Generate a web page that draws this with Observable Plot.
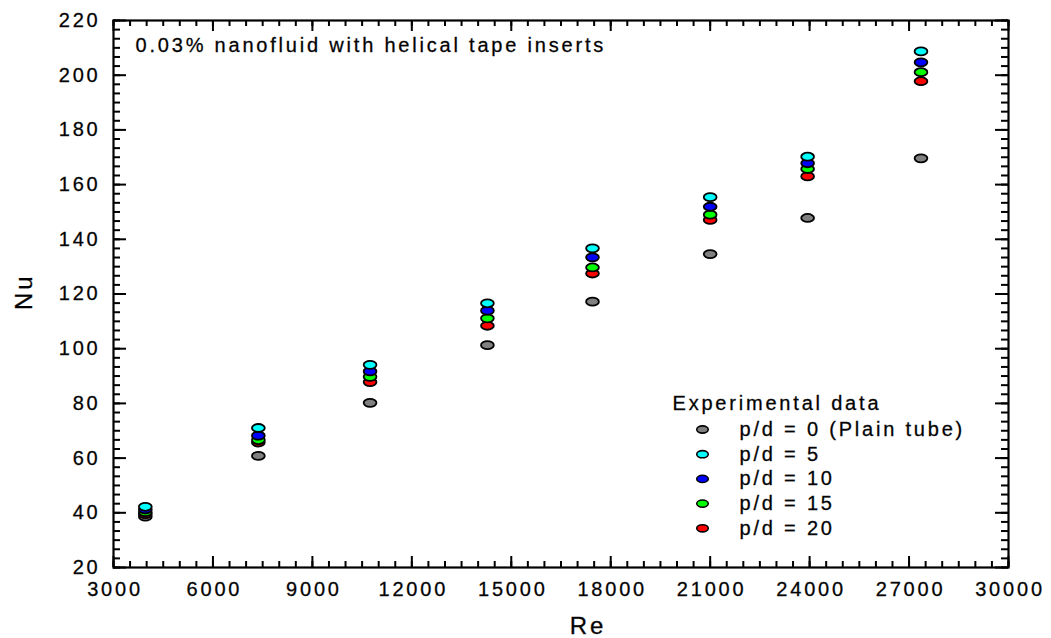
<!DOCTYPE html>
<html>
<head>
<meta charset="utf-8">
<script src="https://cdn.jsdelivr.net/npm/d3@7"></script>
<script src="https://cdn.jsdelivr.net/npm/@observablehq/plot@0.6"></script>
<style>
  html, body { margin: 0; padding: 0; background: #fff; }
  #chart svg text { letter-spacing: 2.8px; stroke: #111; stroke-width: 0.3px; }
  #chart svg g[aria-label="nu-label"] text { letter-spacing: 0px; }
  #chart svg g[aria-label="re-label"] text { letter-spacing: 4px; }
</style>
</head>
<body>
<div id="chart"></div>
<script>
// ---- data ----
const re = [3960, 7370, 10740, 14280, 17450, 21000, 23940, 27360];
const nuPlain = [38.6, 60.8, 80.2, 101.3, 117.2, 134.6, 147.8, 169.6];
const nuPd5   = [42.2, 71.0, 94.1, 116.6, 136.7, 155.4, 170.2, 208.7];
const nuPd10  = [41.2, 68.2, 91.7, 113.9, 133.4, 151.9, 167.8, 204.7];
const nuPd15  = [40.2, 66.6, 89.7, 111.1, 129.7, 149.0, 165.7, 201.1];
const nuPd20  = [39.5, 65.7, 87.8, 108.4, 127.5, 147.1, 163.0, 197.8];

const seriesNames = ["p/d = 0 (Plain tube)", "p/d = 5", "p/d = 10", "p/d = 15", "p/d = 20"];
const seriesColors = ["#808080", "#00ffff", "#0000ff", "#00ff00", "#ff0000"];
const seriesValues = [nuPlain, nuPd5, nuPd10, nuPd15, nuPd20];

const xTicks = [3000, 6000, 9000, 12000, 15000, 18000, 21000, 24000, 27000, 30000];
const yTicks = [20, 40, 60, 80, 100, 120, 140, 160, 180, 200, 220];
const titleText = "0.03% nanofluid with helical tape inserts";
const legendTitle = "Experimental data";

// ---- layout ----
const W = 1051, H = 638;
const mL = 113, mR = 43, mT = 20, mB = 71;
const fw = W - mL - mR, fh = H - mT - mB;

// minor tick positions
const xMinor = d3.range(0, 55).map(i => 3000 + i * 500);
const yMinor = d3.range(0, 61).map(i => 20 + i * 20 / 6);

// ellipse symbol (markers are wider than tall in the reference)
const ellipse = {
  draw(ctx, size) {
    const r = Math.sqrt(size / Math.PI), a = r * 1.6, b = r, k = 0.5523;
    ctx.moveTo(a, 0);
    ctx.bezierCurveTo(a, b * k, a * k, b, 0, b);
    ctx.bezierCurveTo(-a * k, b, -a, b * k, -a, 0);
    ctx.bezierCurveTo(-a, -b * k, -a * k, -b, 0, -b);
    ctx.bezierCurveTo(a * k, -b, a, -b * k, a, 0);
    ctx.closePath();
  }
};

// drawing order: plain, then p/d 20, 15, 10, 5 (cyan on top)
const order = [0, 4, 3, 2, 1];
const table = [];
for (const s of order) {
  re.forEach((r, i) => table.push({re: r, nu: seriesValues[s][i], series: seriesNames[s], color: seriesColors[s]}));
}

const tickStyle = {stroke: "black", strokeWidth: 2};
const marks = [
  // minor and major ticks, inward on all four sides
  Plot.tickX(xMinor, {x: d => d, insetTop: fh - 6, ...tickStyle}),
  Plot.tickX(xMinor, {x: d => d, insetBottom: fh - 6, ...tickStyle}),
  Plot.tickX(xTicks, {x: d => d, insetTop: fh - 11, ...tickStyle}),
  Plot.tickX(xTicks, {x: d => d, insetBottom: fh - 11, ...tickStyle}),
  Plot.tickY(yMinor, {y: d => d, insetRight: fw - 7, ...tickStyle}),
  Plot.tickY(yMinor, {y: d => d, insetLeft: fw - 7, ...tickStyle}),
  Plot.tickY(yTicks, {y: d => d, insetRight: fw - 13, ...tickStyle}),
  Plot.tickY(yTicks, {y: d => d, insetLeft: fw - 13, ...tickStyle}),
  Plot.frame({stroke: "black", strokeWidth: 2.2}),
  Plot.axisX({ticks: xTicks, tickSize: 0, tickPadding: 14, tickFormat: d3.format("d"), label: null, fontSize: 20, dx: 1.5}),
  Plot.axisY({ticks: yTicks, tickSize: 0, tickPadding: 13, label: null, fontSize: 20}),
  Plot.text([titleText], {frameAnchor: "top-left", textAnchor: "start", lineAnchor: "middle", dx: 22, dy: 25, fontSize: 20, fill: "black"}),
  Plot.text(["Nu"], {frameAnchor: "left", rotate: -90, lineAnchor: "middle", dx: -89, dy: 16, fontSize: 24, fill: "black", ariaLabel: "nu-label"}),
  Plot.text(["Re"], {frameAnchor: "bottom", lineAnchor: "middle", dx: 27, dy: 59, fontSize: 24, fill: "black", ariaLabel: "re-label"}),
  Plot.dot(table, {x: "re", y: "nu", fill: "color", stroke: "black", strokeWidth: 1.8, r: 4, symbol: ellipse}),
  // legend inside the frame
  Plot.text([legendTitle], {frameAnchor: "bottom-right", textAnchor: "start", lineAnchor: "middle", dx: -336, dy: -164, fontSize: 20, fill: "black"})
];
seriesNames.forEach((name, i) => {
  const dy = -138 + i * 24.7;
  marks.push(Plot.dot([name], {frameAnchor: "bottom-right", dx: -306, dy, r: 3.6, fill: seriesColors[i], stroke: "black", strokeWidth: 1.6, symbol: ellipse}));
  marks.push(Plot.text([name], {frameAnchor: "bottom-right", textAnchor: "start", lineAnchor: "middle", dx: -269, dy, fontSize: 20, fill: "black"}));
});

const chart = Plot.plot({
  width: W, height: H,
  marginLeft: mL, marginRight: mR, marginTop: mT, marginBottom: mB,
  style: {fontFamily: "'Liberation Sans', Arial, sans-serif", fontSize: "20px", color: "black", background: "white"},
  x: {type: "linear", domain: [3000, 30000]},
  y: {type: "linear", domain: [20, 220]},
  marks
});
document.getElementById("chart").appendChild(chart);
</script>
</body>
</html>
